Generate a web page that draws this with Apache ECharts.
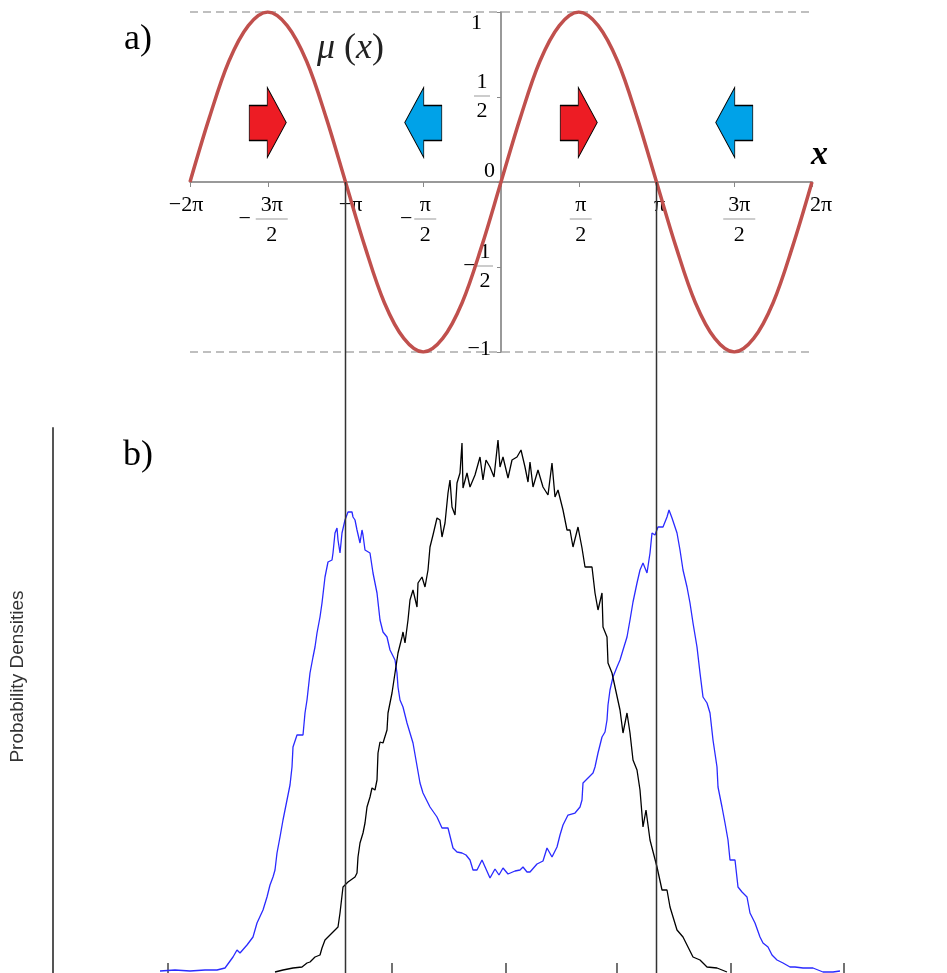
<!DOCTYPE html>
<html><head><meta charset="utf-8">
<script src="https://cdn.jsdelivr.net/npm/echarts@6/dist/echarts.min.js"></script>
<style>html,body{margin:0;padding:0;background:#fff}#c{width:947px;height:973px}</style>
</head><body><div id="c"></div>
<script>
// ---------- data ----------
// panel a) tick labels
const xTickLabels = ['−2π','−3π/2','−π','−π/2','','π/2','π','3π/2','2π'];
const yTickLabels = ['−1','−1/2','0','1/2','1'];
// mu(x) sampled every pi/8 from -2pi to 2pi (x in units of pi)
const muX = [-2,-1.875,-1.75,-1.625,-1.5,-1.375,-1.25,-1.125,-1,-0.875,-0.75,-0.625,-0.5,-0.375,-0.25,-0.125,0,
             0.125,0.25,0.375,0.5,0.625,0.75,0.875,1,1.125,1.25,1.375,1.5,1.625,1.75,1.875,2];
const muY = [0,0.38,0.71,0.92,1,0.92,0.71,0.38,0,-0.38,-0.71,-0.92,-1,-0.92,-0.71,-0.38,0,
             0.38,0.71,0.92,1,0.92,0.71,0.38,0,-0.38,-0.71,-0.92,-1,-0.92,-0.71,-0.38,0];
// drift arrows (x in units of pi)
const arrowX = [-1.5,-0.5,0.5,1.5];
const arrowY = [0.35,0.35,0.35,0.35];
const arrowDir = ['right','left','right','left'];
// vertical guide lines at x = -pi, pi (units of pi)
const guideX = [-1, 1];
// panel b) histograms (arbitrary position / density units)
const binTicks = [168,392,506,617,731,844];
const blueX = [160,175,190,205,217,225,233,237,240,247,253,257,263,267,270,273,275,277,280,283,287,290,292,293,297,303,305,307,310,313,315,317,320,322,325,328,332,333,335,337,338,340,342,345,348,352,353,355,357,360,362,363,365,370,373,377,380,383,387,390,395,397,398,400,403,407,413,420,423,430,437,442,448,453,457,462,466,470,473,477,482,490,495,499,503,508,515,520,523,527,530,537,543,547,552,557,560,563,568,575,580,582,583,588,593,595,598,602,605,607,608,610,613,617,620,623,627,630,633,637,640,643,647,650,652,655,658,663,667,669,672,677,680,683,687,690,693,697,700,703,707,710,713,717,718,722,725,728,730,735,738,742,747,750,755,760,763,768,772,777,783,790,795,803,813,823,833,840];
const blueY = [2,3,2,3,3,5,16,23,20,28,36,50,63,76,88,96,103,120,136,153,173,188,206,226,238,238,260,273,300,316,326,340,356,370,396,411,413,420,440,445,433,420,440,453,461,461,456,453,443,430,443,438,423,420,400,380,353,341,336,323,313,300,286,273,266,250,230,190,180,166,156,145,145,125,121,120,118,113,103,103,113,95,104,98,105,99,102,103,106,101,101,109,112,125,116,126,138,148,158,160,166,173,190,195,200,206,220,236,241,253,268,283,296,306,313,323,336,353,371,390,403,410,400,420,440,438,446,446,456,463,455,440,423,403,386,370,350,326,300,276,270,260,233,206,186,166,150,133,113,113,86,81,76,60,50,36,30,26,18,13,10,6,6,5,5,1,1,2];
const blackX = [275,283,293,302,307,310,315,320,322,325,333,338,340,343,348,355,357,358,360,363,365,367,370,372,375,377,378,380,383,387,388,392,395,398,402,403,405,408,410,413,417,418,422,425,428,430,433,437,440,442,445,448,450,452,455,457,460,462,463,467,470,475,480,483,486,490,494,498,500,503,508,512,517,521,525,528,530,533,538,543,548,552,555,558,563,567,570,573,578,582,585,592,595,598,602,603,607,608,612,615,620,623,627,630,633,637,640,643,646,650,657,662,667,670,677,683,688,693,700,707,717,727];
const blackY = [1,3,5,6,10,11,16,18,25,33,41,46,60,86,91,96,100,116,130,140,150,166,176,185,183,193,220,231,230,243,260,280,300,320,336,341,330,353,373,383,366,390,396,386,403,426,438,455,453,436,450,480,493,466,458,490,500,530,485,500,486,498,516,493,513,506,496,533,506,516,495,513,516,523,506,491,511,486,503,486,478,510,476,483,463,443,443,426,446,425,406,406,380,363,380,346,336,310,300,286,263,240,260,240,213,203,183,146,163,133,106,83,83,66,43,36,26,16,13,6,5,1];

// ---------- styles / helpers ----------
const SERIF = '"Liberation Serif","Times New Roman",serif';
const FS = 22;
const rich = {};
function sty(name, o){ if(!rich[name]) rich[name] = Object.assign({fontFamily:SERIF, fontSize:FS, color:'#000'}, o); return name; }
function sp(w){ return w>0 ? '{'+sty('w'+w,{width:w,lineHeight:8})+'| }' : ''; }
const xLayout = { // layout offsets (px) of each label relative to its tick
  '−2π':{lead:0,trail:8}, '−3π/2':{mw:22,fw:32,lead:0,trail:14}, '−π':{lead:10,trail:0},
  '−π/2':{mw:16,fw:22,lead:0,trail:12}, 'π/2':{mw:0,fw:22,lead:4,trail:0}, 'π':{lead:6,trail:0},
  '3π/2':{mw:0,fw:32,lead:10,trail:0}, '2π':{lead:18,trail:0}
};
function xLabel(s){
  if(!s) return '';
  const L = xLayout[s] || {lead:0,trail:0};
  if(s.indexOf('/')<0){
    return sp(L.lead)+'{'+sty('t',{lineHeight:20})+'|'+s+'}'+sp(L.trail);
  }
  let neg = s[0]==='−'; let body = neg? s.slice(1): s;
  const [num, den] = body.split('/');
  const fw = L.fw, mw = neg? L.mw: 0;
  const n = sty('n'+fw,{width:fw,align:'center',lineHeight:20});
  const b = sty('b'+fw,{width:fw,height:1,backgroundColor:'#999',lineHeight:8});
  const d = sty('d'+fw,{width:fw,align:'center',lineHeight:24});
  const m = mw? '{'+sty('m'+mw,{width:mw,align:'center',lineHeight:8})+'|−}' : '';
  return sp(L.lead)+sp(mw)+'{'+n+'|'+num+'}'+sp(L.trail)+'\n'+
         sp(L.lead)+m+'{'+b+'| }'+sp(L.trail)+'\n'+
         sp(L.lead)+sp(mw)+'{'+d+'|'+den+'}'+sp(L.trail);
}
sty('y1',{lineHeight:20,padding:[22,13,0,0]});
sty('y0',{lineHeight:20,padding:[0,0,22,0]});
sty('ym1',{lineHeight:20,padding:[0,4,6,0]});
sty('yn',{width:16,align:'center',lineHeight:24});
sty('yb',{width:16,height:1,backgroundColor:'#999',lineHeight:4});
sty('yd',{width:16,align:'center',lineHeight:26});
sty('yw',{width:5,lineHeight:4}); sty('yw2',{width:2,lineHeight:4});
sty('yw15',{width:15,lineHeight:4}); sty('ym15',{width:15,align:'center',lineHeight:4});
function yLabel(s){
  if(s==='1') return '{y1|1}';
  if(s==='0') return '{y0|0}';
  if(s==='−1') return '{ym1|−1}';
  if(s==='1/2') return '{yn|1}{yw| }\n{yb| }{yw| }\n{yd|2}{yw| }';
  if(s==='−1/2') return '{yw15| }{yn|1}{yw2| }\n{ym15|−}{yb| }{yw2| }\n{yw15| }{yd|2}{yw2| }';
  return s;
}
const xLabelStr = xTickLabels.map(xLabel);   // builds rich styles before setOption
const yLabelStr = yTickLabels.map(yLabel);

const PI = Math.PI;
const rightArrow = 'path://M0,18L18,18L18,0L37,35L18,70L18,53L0,53Z';
const leftArrow  = 'path://M37,18L19,18L19,0L0,35L19,70L19,53L37,53Z';
// top grid geometry (layout)
const G0 = {left:190, right:135, top:12, bottom:621, outerBoundsMode:'none', containLabel:false};
const G0w = 947 - G0.left - G0.right, G0h = 973 - G0.top - G0.bottom;

const chart = echarts.init(document.getElementById('c'), null, {renderer:'canvas'});
chart.setOption({
  animation:false,
  backgroundColor:'#fff',
  grid:[
    G0,
    {left:53, right:2, top:428, bottom:0, outerBoundsMode:'none', containLabel:false}
  ],
  xAxis:[
    {gridIndex:0, type:'value', min:-2*PI, max:2*PI, interval:PI/2,
     offset:-G0h/2,
     axisLine:{onZero:false, lineStyle:{color:'#999', width:2}},
     axisTick:{show:true, length:5, lineStyle:{color:'#888', width:1}},
     splitLine:{show:false},
     axisLabel:{margin:13, rich:rich, showMinLabel:true, showMaxLabel:true, hideOverlap:false,
       formatter:function(v){ return xLabelStr[Math.round(v/(PI/2))+4]; }}},
    {gridIndex:1, type:'value', min:53, max:945,
     axisLine:{show:false},
     axisTick:{show:true, inside:true, length:10, customValues:binTicks, lineStyle:{color:'#444', width:1.5}},
     axisLabel:{show:false}, splitLine:{show:false}}
  ],
  yAxis:[
    {gridIndex:0, type:'value', min:-1, max:1, interval:0.5,
     offset:-G0w/2,
     axisLine:{onZero:false, lineStyle:{color:'#999', width:2}},
     axisTick:{show:true, length:4, lineStyle:{color:'#888'}},
     splitLine:{show:false},
     axisLabel:{margin:6, rich:rich, showMinLabel:true, showMaxLabel:true, hideOverlap:false,
       formatter:function(v){ return yLabelStr[Math.round((v+1)/0.5)]; }}},
    {gridIndex:1, type:'value', min:0, max:545,
     axisLine:{show:true, onZero:false, lineStyle:{color:'#555', width:2}},
     axisTick:{show:false}, axisLabel:{show:false}, splitLine:{show:false},
     name:'Probability Densities', nameLocation:'middle', nameRotate:90, nameGap:26,
     nameTextStyle:{fontFamily:'"Liberation Sans",Arial,sans-serif', fontSize:19, color:'#333', padding:[0,0,0,48]}}
  ],
  series:[
    {type:'line', xAxisIndex:0, yAxisIndex:0, smooth:0.35, showSymbol:false, silent:true,
     data: muX.map((k,i)=>[k*PI, muY[i]]),
     lineStyle:{color:'#c0504d', width:3.5}, z:5,
     markLine:{silent:true, symbol:'none', label:{show:false},
       lineStyle:{type:[8,5], color:'#aaa', width:1.5},
       data:[{yAxis:1},{yAxis:-1}]}},
    {type:'scatter', xAxisIndex:0, yAxisIndex:0, silent:true, z:6,
     data: arrowX.map((k,i)=>({value:[k*PI, arrowY[i]],
        symbol: arrowDir[i]==='right'? rightArrow: leftArrow,
        itemStyle:{color: arrowDir[i]==='right'? '#ed1c24':'#00a2e8'}})),
     symbolSize:[37,70], symbolKeepAspect:false,
     itemStyle:{borderColor:'#000', borderWidth:1, opacity:1}},
    {type:'line', xAxisIndex:1, yAxisIndex:1, showSymbol:false, silent:true,
     data: blueX.map((x,i)=>[x, blueY[i]]),
     lineStyle:{color:'#2a2aff', width:1.3}},
    {type:'line', xAxisIndex:1, yAxisIndex:1, showSymbol:false, silent:true,
     data: blackX.map((x,i)=>[x, blackY[i]]),
     lineStyle:{color:'#000', width:1.3}}
  ]
});

// graphic annotations: guide lines via the top axis scale, panel letters and labels
const g = [];
guideX.forEach((k,i)=>{
  const p = chart.convertToPixel({xAxisIndex:0, yAxisIndex:0}, [k*PI, 0]);
  g.push({type:'line', id:'guide'+i, z:20, silent:true,
    shape:{x1:p[0], y1:p[1], x2:p[0], y2:973},
    style:{stroke:'#333', lineWidth:1.5}});
});
g.push({type:'text', z:20, style:{x:124, y:40, text:'a)', font:'36px '+SERIF, fill:'#000', verticalAlign:'middle', textVerticalAlign:'middle'}});
g.push({type:'text', z:20, style:{x:123, y:456, text:'b)', font:'36px '+SERIF, fill:'#000', verticalAlign:'middle', textVerticalAlign:'middle'}});
g.push({type:'text', z:20, style:{x:317, y:49, text:'{i|μ} ({i|x})', font:'36px '+SERIF, fill:'#222',
   verticalAlign:'middle', textVerticalAlign:'middle',
   rich:{i:{fontStyle:'italic', fontFamily:SERIF, fontSize:36, fill:'#222', color:'#222'}}}});
g.push({type:'text', z:20, style:{x:811, y:155, text:'x', font:'italic bold 34px '+SERIF, fill:'#000', verticalAlign:'middle', textVerticalAlign:'middle'}});
chart.setOption({graphic:g});
</script>
</body></html>
